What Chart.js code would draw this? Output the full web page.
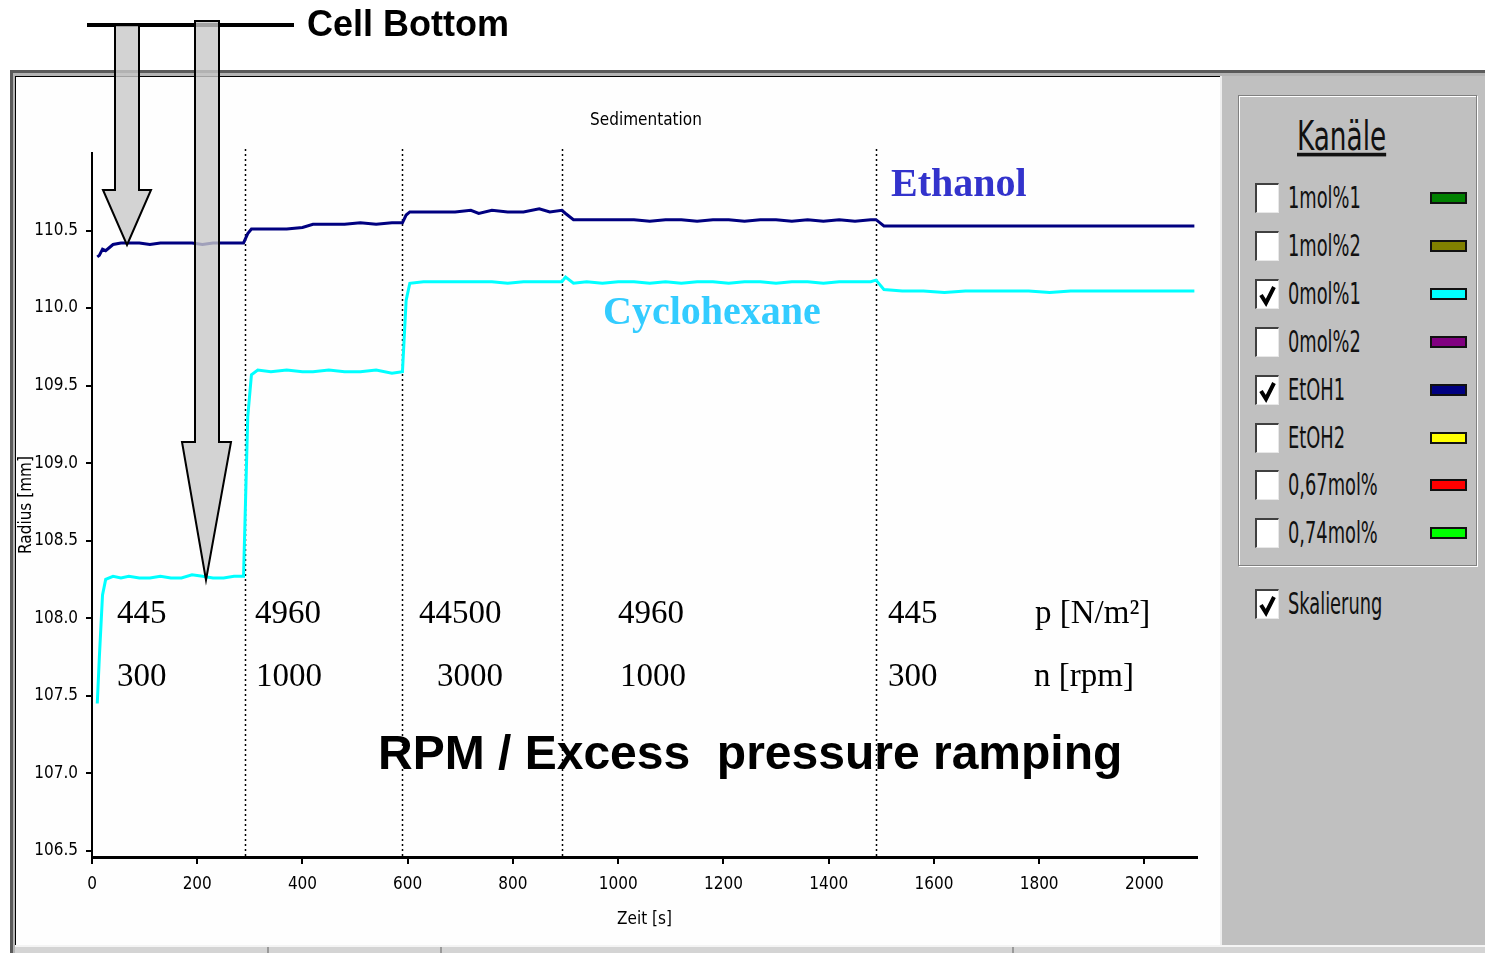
<!DOCTYPE html>
<html>
<head>
<meta charset="utf-8">
<script src="https://cdn.jsdelivr.net/npm/chart.js@4.4.1/dist/chart.umd.min.js"></script>
<style>
  html, body { margin: 0; padding: 0; background: #fff; }
  body { width: 1485px; height: 953px; overflow: hidden; position: relative;
         font-family: 'Liberation Sans Narrow', 'DejaVu Sans Condensed', Arial, sans-serif; }
  .abs { position: absolute; box-sizing: border-box; }
  #frame  { left: 10px; top: 70px; width: 1475px; height: 883px; background: #5a5a5a; }
  #frame2 { left: 13px; top: 73px; width: 1472px; height: 880px; background: #b4b4b4; }
  #plotbg { left: 15px; top: 76px; width: 1205px; height: 869px; background: #fefefe;
            border-left: 1px solid #000; border-top: 1px solid #000; }
  #panel  { left: 1220px; top: 76px; width: 265px; height: 869px; background: #c0c0c0;
            border-left: 2px solid #eee; }
  #status { left: 15px; top: 945px; width: 1470px; height: 8px; background: #d4d4d4;
            border-top: 2px solid #f4f4f4; }
  .sep { top: 947px; width: 2px; height: 6px; background: #9a9a9a; }
  #group  { left: 1238px; top: 95px; width: 239px; height: 471px;
            border: 1px solid #808080; box-shadow: inset 1px 1px 0 #fff, 1px 1px 0 #fff; }
  .title  { left: 1297px; top: 112px; font-size: 34px; color: #111; text-decoration: underline;
            transform: scale(0.86, 1.2); transform-origin: left top; white-space: nowrap; }
  .box    { width: 24px; height: 30px; background: #fff;
            border-top: 2px solid #404040; border-left: 2px solid #404040;
            border-right: 1px solid #e8e8e8; border-bottom: 1px solid #e8e8e8; }
  .lab    { font-size: 30px; color: #111; white-space: nowrap;
            transform: scaleX(0.66); transform-origin: left center; line-height: 30px; }
  .sw     { left: 1430px; width: 37px; height: 12px; border: 2px solid #111; }
  #wrap   { left: 0; top: 0; width: 1485px; height: 953px; }
</style>
</head>
<body>
<div id="frame" class="abs"></div>
<div id="frame2" class="abs"></div>
<div id="plotbg" class="abs"></div>
<div id="panel" class="abs"></div>
<div id="status" class="abs"></div>
<div class="abs sep" style="left:267px"></div>
<div class="abs sep" style="left:440px"></div>
<div class="abs sep" style="left:1012px"></div>
<div id="group" class="abs"></div>
<div class="abs title">Kanäle</div>
<div id="legend"></div>
<div id="wrap" class="abs"><canvas id="chart"></canvas></div>

<script>
// time axis (s)
const times = [10, 14, 20, 26, 40, 55, 70, 90, 110, 130, 150, 170, 190, 210, 230, 250, 270, 288,
  296, 303, 315, 340, 370, 400, 420, 450, 480, 510, 540, 570, 590, 597, 604, 630, 660, 690, 720,
  735, 760, 790, 820, 850, 870, 893, 900, 915, 940, 970, 1000, 1030, 1060, 1090, 1120, 1150, 1180,
  1210, 1240, 1270, 1300, 1330, 1360, 1390, 1420, 1450, 1480, 1490, 1505, 1540, 1580, 1620, 1660,
  1700, 1740, 1780, 1820, 1860, 1900, 1940, 1980, 2020, 2060, 2095];

// EtOH1 radius (mm)
const ethanolRadius = [110.33, 110.34, 110.38, 110.37, 110.41, 110.42, 110.42, 110.42, 110.41,
  110.42, 110.42, 110.42, 110.42, 110.41, 110.42, 110.42, 110.42, 110.42,
  110.48, 110.51, 110.51, 110.51, 110.51, 110.52, 110.54, 110.54, 110.54, 110.55, 110.54, 110.55,
  110.55, 110.60, 110.62, 110.62, 110.62, 110.62, 110.63, 110.61, 110.63, 110.62, 110.62, 110.64,
  110.62, 110.63, 110.61, 110.57, 110.57, 110.57, 110.57, 110.57, 110.56, 110.57, 110.57, 110.56,
  110.57, 110.57, 110.56, 110.57, 110.57, 110.56, 110.57, 110.56, 110.57, 110.56, 110.57, 110.57,
  110.53, 110.53, 110.53, 110.53, 110.53, 110.53, 110.53, 110.53, 110.53, 110.53, 110.53, 110.53,
  110.53, 110.53, 110.53, 110.53];

// 0mol%1 radius (mm)
const cyclohexaneRadius = [107.45, 107.75, 108.15, 108.25, 108.27, 108.26, 108.27, 108.26, 108.26,
  108.27, 108.26, 108.26, 108.28, 108.27, 108.26, 108.26, 108.27, 108.27,
  109.30, 109.57, 109.60, 109.59, 109.60, 109.59, 109.59, 109.60, 109.59, 109.59, 109.60, 109.58,
  109.59, 110.05, 110.16, 110.17, 110.17, 110.17, 110.17, 110.17, 110.17, 110.16, 110.17, 110.17,
  110.17, 110.17, 110.20, 110.16, 110.17, 110.16, 110.17, 110.17, 110.16, 110.17, 110.16, 110.17,
  110.17, 110.16, 110.17, 110.17, 110.16, 110.17, 110.17, 110.16, 110.17, 110.17, 110.17, 110.18,
  110.12, 110.11, 110.11, 110.10, 110.11, 110.11, 110.11, 110.11, 110.10, 110.11, 110.11, 110.11,
  110.11, 110.11, 110.11, 110.11];

const xTickValues = [0, 200, 400, 600, 800, 1000, 1200, 1400, 1600, 1800, 2000];
const yTickValues = [106.5, 107.0, 107.5, 108.0, 108.5, 109.0, 109.5, 110.0, 110.5];

const phaseBounds = [290, 590, 893, 1490];
const pressureLabels = ['445', '4960', '44500', '4960', '445'];
const rpmLabels = ['300', '1000', '3000', '1000', '300'];

const channelNames = ['1mol%1', '1mol%2', '0mol%1', '0mol%2', 'EtOH1', 'EtOH2', '0,67mol%', '0,74mol%'];
const channelColors = ['#008000', '#808000', '#00ffff', '#800080', '#000080', '#ffff00', '#ff0000', '#00ff00'];
const channelChecked = [false, false, true, false, true, false, false, false];

const NARROW = "'Liberation Sans Narrow', 'DejaVu Sans Condensed', Arial, sans-serif";
const SERIF = "'Liberation Serif', 'Times New Roman', serif";
const ARIAL = "'Liberation Sans', Arial, sans-serif";

// legend panel (static, like the original program window)
const tick = '<svg width="20" height="26" style="position:absolute;left:1px;top:1px"><polyline points="3,13 8,21 16,5" fill="none" stroke="#000" stroke-width="4"/></svg>';
function addRow(label, top, color, checked) {
  let html = '<div class="abs box" style="left:1255px;top:' + (top - 15) + 'px">' + (checked ? tick : '') + '</div>';
  html += '<div class="abs lab" style="left:1288px;top:' + (top - 15) + 'px">' + label + '</div>';
  if (color) html += '<div class="abs sw" style="top:' + (top - 6) + 'px;background:' + color + '"></div>';
  return html;
}
let legendHtml = '';
channelNames.forEach((n, i) => {
  legendHtml += addRow(n, Math.round(198 + i * 47.9), channelColors[i], channelChecked[i]);
});
legendHtml += addRow('Skalierung', 604, null, true);
document.getElementById('legend').innerHTML = legendHtml;

const overlay = {
  id: 'overlay',
  beforeDatasetsDraw(chart) {
    const { ctx, chartArea, scales: { x } } = chart;
    ctx.save();
    ctx.strokeStyle = '#000';
    ctx.lineWidth = 1.5;
    ctx.setLineDash([2, 3]);
    phaseBounds.forEach(t => {
      const px = Math.round(x.getPixelForValue(t)) + 0.5;
      ctx.beginPath();
      ctx.moveTo(px, chartArea.top - 4);
      ctx.lineTo(px, chartArea.bottom);
      ctx.stroke();
    });
    ctx.restore();
  },
  afterDatasetsDraw(chart) {
    const ctx = chart.ctx;
    ctx.save();
    ctx.textBaseline = 'middle';

    ctx.fillStyle = '#000';
    ctx.textAlign = 'center';
    ctx.font = '17px ' + NARROW;
    ctx.fillText('Sedimentation', 646, 121);

    ctx.textAlign = 'left';
    ctx.font = 'bold 40px ' + SERIF;
    ctx.fillStyle = '#3333cc';
    ctx.fillText('Ethanol', 891, 186);
    ctx.fillStyle = '#33ccff';
    ctx.fillText('Cyclohexane', 603, 314);

    ctx.fillStyle = '#000';
    ctx.font = '33px ' + SERIF;
    const px1 = [117, 255, 419, 618, 888];
    const px2 = [117, 256, 437, 620, 888];
    pressureLabels.forEach((s, i) => ctx.fillText(s, px1[i], 614));
    rpmLabels.forEach((s, i) => ctx.fillText(s, px2[i], 677));
    ctx.fillText('p [N/m²]', 1035, 614);
    ctx.fillText('n [rpm]', 1034, 677);

    ctx.font = 'bold 48px ' + ARIAL;
    ctx.fillText('RPM / Excess  pressure ramping', 378, 756);
    ctx.restore();
  },
  afterDraw(chart) {
    const ctx = chart.ctx;
    ctx.save();
    ctx.fillStyle = '#000';
    ctx.fillRect(87, 23, 207, 4);
    ctx.font = 'bold 36px ' + ARIAL;
    ctx.textBaseline = 'middle';
    ctx.fillText('Cell Bottom', 307, 26);

    const arrows = [
      [[115, 25], [139, 25], [139, 190], [151, 190], [127, 245], [103, 190], [115, 190]],
      [[195, 21], [219, 21], [219, 442], [231, 442], [206, 580], [182, 442], [195, 442]]
    ];
    ctx.fillStyle = 'rgba(200,200,200,0.8)';
    ctx.strokeStyle = '#000';
    ctx.lineWidth = 2;
    ctx.lineJoin = 'miter';
    arrows.forEach(pts => {
      ctx.beginPath();
      pts.forEach((p, i) => i ? ctx.lineTo(p[0], p[1]) : ctx.moveTo(p[0], p[1]));
      ctx.closePath();
      ctx.fill();
      ctx.stroke();
    });
    ctx.restore();
  }
};

const toPoints = ys => times.map((t, i) => ({ x: t, y: ys[i] }));

new Chart(document.getElementById('chart'), {
  type: 'line',
  data: {
    datasets: [
      { label: 'EtOH1', data: toPoints(ethanolRadius), borderColor: '#000080', borderWidth: 3,
        pointRadius: 0, tension: 0 },
      { label: '0mol%1', data: toPoints(cyclohexaneRadius), borderColor: '#00ffff', borderWidth: 3,
        pointRadius: 0, tension: 0 }
    ]
  },
  options: {
    responsive: true,
    maintainAspectRatio: false,
    animation: false,
    events: [],
    layout: { padding: { left: 16, top: 153, right: 288, bottom: 20 } },
    plugins: { legend: { display: false }, tooltip: { enabled: false } },
    scales: {
      x: {
        type: 'linear', min: 0, max: 2100,
        afterBuildTicks: s => { s.ticks = xTickValues.map(v => ({ value: v })); },
        afterFit: s => { s.height = 76; },
        grid: { drawOnChartArea: false, drawTicks: true, tickLength: 7, color: '#000', lineWidth: 2 },
        border: { display: true, color: '#000', width: 3 },
        ticks: { color: '#000', padding: 10, maxRotation: 0, callback: v => String(v),
                 font: { family: NARROW, size: 17 } },
        title: { display: true, text: 'Zeit [s]', color: '#000', padding: { top: 0, bottom: 3 },
                 font: { family: NARROW, size: 17 } }
      },
      y: {
        type: 'linear', min: 106.46, max: 111.0,
        afterBuildTicks: s => { s.ticks = yTickValues.map(v => ({ value: v })); },
        afterFit: s => { s.width = 76; },
        grid: { drawOnChartArea: false, drawTicks: true, tickLength: 6, color: '#000', lineWidth: 2 },
        border: { display: true, color: '#000', width: 2 },
        ticks: { color: '#000', padding: 8, callback: v => v.toFixed(1),
                 font: { family: NARROW, size: 17 } },
        title: { display: true, text: 'Radius [mm]', color: '#000', padding: { top: 0, bottom: 0 },
                 font: { family: NARROW, size: 17 } }
      }
    }
  },
  plugins: [overlay]
});
</script>
</body>
</html>
